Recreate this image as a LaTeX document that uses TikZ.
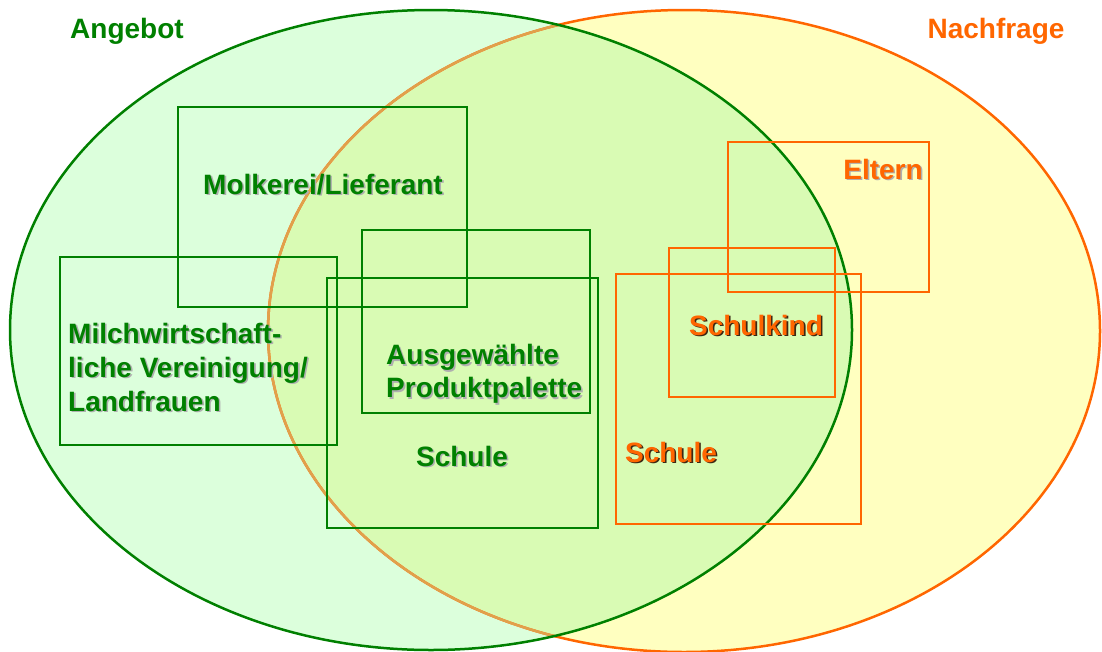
\documentclass[tikz,border=0pt]{standalone}
\usepackage{fontspec}
\setmainfont{Liberation Sans}
\definecolor{grn}{RGB}{0,128,0}
\definecolor{org}{RGB}{255,102,0}
\definecolor{gfill}{RGB}{220,255,220}
\definecolor{yfill}{RGB}{255,255,192}
\definecolor{ofill}{RGB}{217,251,180}
\definecolor{tanline}{RGB}{225,160,75}
\definecolor{lshadow}{RGB}{175,175,175}
\definecolor{dshadow}{RGB}{60,40,20}
\newcommand\shtxt[3]{\rlap{\kern1.6pt\raisebox{-1.6pt}{\textcolor{#2}{#3}}}\textcolor{#1}{#3}}
\begin{document}
\begin{tikzpicture}[x=1pt,y=-1pt,
  lab/.style={font=\fontsize{28}{34}\selectfont\bfseries, inner sep=0pt},
  gbox/.style={draw=grn, line width=2pt, minimum width=#1},
  obox/.style={draw=org, line width=2pt, minimum width=#1}]
\useasboundingbox (0,0) rectangle (1102,651);
% ellipses
\fill[gfill] (431,330) ellipse [x radius=421pt, y radius=320pt];
\fill[yfill] (684,331) ellipse [x radius=416pt, y radius=321pt];
\begin{scope}
  \clip (431,330) ellipse [x radius=421pt, y radius=320pt];
  \fill[ofill] (684,331) ellipse [x radius=416pt, y radius=321pt];
\end{scope}
\draw[org, line width=2.5pt] (684,331) ellipse [x radius=416pt, y radius=321pt];
\begin{scope}
  \clip (431,330) ellipse [x radius=421pt, y radius=320pt];
  \draw[tanline, line width=2.5pt] (684,331) ellipse [x radius=416pt, y radius=321pt];
\end{scope}
\draw[grn, line width=2.5pt] (431,330) ellipse [x radius=421pt, y radius=320pt];
% boxes
\node[gbox=289pt, minimum height=200pt] (bmolk) at (322.5,207) {};
\node[gbox=277pt, minimum height=188pt] (bmilch) at (198.5,351) {};
\node[gbox=228pt, minimum height=183pt] (bausg) at (476,321.5) {};
\node[gbox=271pt, minimum height=250pt] (bschg) at (462.5,403) {};
\node[obox=201pt, minimum height=150pt] (belt) at (828.5,217) {};
\node[obox=166pt, minimum height=149pt] (bkind) at (752,322.5) {};
\node[obox=245pt, minimum height=250pt] (bscho) at (738.5,399) {};
% labels
\node[lab, text=grn] (angebot) at (127,31) {Angebot};
\node[lab, text=org] (nachfrage) at (996,31) {Nachfrage};
\node[lab] (tmolk) at (323,185) {\shtxt{grn}{lshadow}{Molkerei/Lieferant}};
\node[lab, anchor=west, align=left] (tmilch) at (68,368) {\shtxt{grn}{lshadow}{Milchwirtschaft-}\\\shtxt{grn}{lshadow}{liche Vereinigung/}\\\shtxt{grn}{lshadow}{Landfrauen}};
\node[lab, anchor=west, align=left, font=\fontsize{28}{33}\selectfont\bfseries] (tausg) at (386,375) {\shtxt{grn}{lshadow}{Ausgewählte}\\\shtxt{grn}{lshadow}{Produktpalette}};
\node[lab] (tschg) at (462,457) {\shtxt{grn}{lshadow}{Schule}};
\node[lab] (telt) at (883,170) {\shtxt{org}{lshadow}{Eltern}};
\node[lab] (tkind) at (756,326) {\shtxt{org}{dshadow}{Schulkind}};
\node[lab] (tscho) at (671,453) {\shtxt{org}{dshadow}{Schule}};
\end{tikzpicture}
\end{document}
